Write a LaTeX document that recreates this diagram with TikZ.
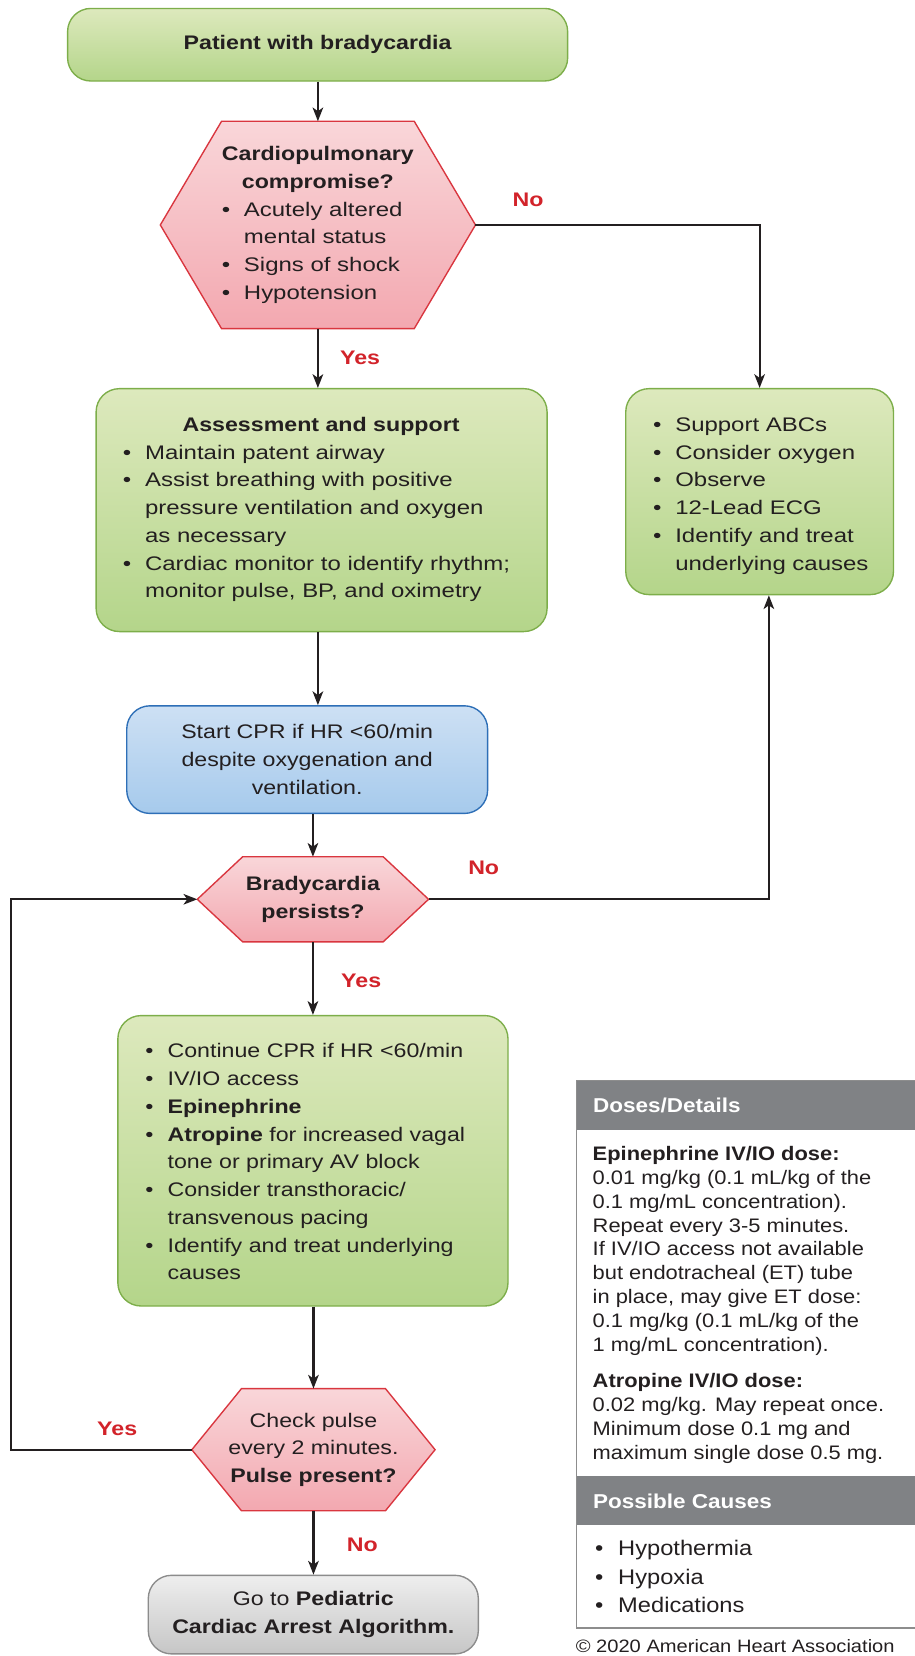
\documentclass[tikz,border=0pt]{standalone}
\usepackage{fontspec}
\setmainfont{Liberation Sans}
\newfontfamily\fa[FakeStretch=1.18]{Liberation Sans}
\newfontfamily\fb[FakeStretch=1.22]{Liberation Sans}
\newfontfamily\fc[FakeStretch=1.12]{Liberation Sans}
\usetikzlibrary{arrows.meta,backgrounds}
\definecolor{ink}{HTML}{231F20}
\definecolor{gtop}{HTML}{DDE9BD}
\definecolor{gbot}{HTML}{B4D58A}
\definecolor{gline}{HTML}{7DAE4A}
\definecolor{rtop}{HTML}{F9D6D9}
\definecolor{rbot}{HTML}{F3A8B0}
\definecolor{rline}{HTML}{D9363F}
\definecolor{btop}{HTML}{CDE0F4}
\definecolor{bbot}{HTML}{A6CAEC}
\definecolor{bline}{HTML}{2E6FB7}
\definecolor{ytop}{HTML}{EEEEEE}
\definecolor{ybot}{HTML}{C6C6C6}
\definecolor{yline}{HTML}{8C8C8C}
\definecolor{dhead}{HTML}{808285}
\definecolor{dline}{HTML}{8D8D8D}
\definecolor{lred}{HTML}{D2232A}
\newcommand\bul{\makebox[21pt][l]{•}}
\newcommand\cnt{\hspace*{21pt}}
\newcommand\bulc{\makebox[21.9pt][l]{•}}
\tikzset{
  flow/.style={font=\fa\fontsize{18.6}{26.3}\selectfont, text=ink},
  flowu/.style={font=\fb\fontsize{18.6}{26.3}\selectfont, text=ink},
  flowb/.style={font=\fa\fontsize{18.6}{26.3}\selectfont\bfseries, text=ink},
  gbox/.style={draw=gline, line width=1.3pt, rounded corners=22pt, top color=gtop, bottom color=gbot, inner sep=0pt},
  bbox/.style={draw=bline, line width=1.3pt, rounded corners=22pt, top color=btop, bottom color=bbot, inner sep=0pt},
  ybox/.style={draw=yline, line width=1.3pt, rounded corners=22pt, top color=ytop, bottom color=ybot, inner sep=0pt},
  hexsty/.style={draw=rline, line width=1.3pt, top color=rtop, bottom color=rbot},
  txt/.style={flow, inner sep=0pt, align=left, anchor=west},
  txtu/.style={flowu, inner sep=0pt, align=left, anchor=west},
  arr/.style={draw=ink, line width=2pt, -{Stealth[length=13pt,width=10pt,inset=3.5pt]}},
  lab/.style={font=\fa\fontsize{18.6}{22}\selectfont\bfseries, text=lred, inner sep=0pt},
  dtxt/.style={font=\fc\fontsize{18.5}{22.6}\selectfont, text=ink, inner sep=0pt, align=left, anchor=west},
  ctxt/.style={font=\fc\fontsize{20}{27}\selectfont, text=ink, inner sep=0pt, align=left, anchor=west},
  dhtxt/.style={font=\fc\fontsize{19}{22}\selectfont\bfseries, text=white, inner sep=0pt, anchor=west},
  dbar/.style={fill=dhead, draw=none, inner sep=0pt, anchor=north west, minimum width=325.8pt},
}
\begin{document}
\begin{tikzpicture}[x=1pt,y=-1pt]
\useasboundingbox (0,0) rectangle (866,1568);

% top
\node[gbox, minimum width=473.5pt, minimum height=68.7pt, flowb] (top) at (300.75,42.35) {Patient with bradycardia};

% hexagon 1
\node[flowu, align=center, minimum width=298pt, minimum height=196pt, inner sep=0pt] (hexA) at (301,213) {%
{\fa\bfseries Cardiopulmonary}\\ {\fa\bfseries compromise?}\\
\makebox[182pt][l]{\bul Acutely altered}\\
\makebox[182pt][l]{\cnt mental status}\\
\makebox[182pt][l]{\bul Signs of shock}\\
\makebox[182pt][l]{\bul Hypotension}};

% assessment
\node[gbox, minimum width=427pt, minimum height=230pt] (assess) at (304.5,483) {};
\node[flowb, inner sep=0pt] (assessT) at (304,403.5) {Assessment and support};
\node[txtu] (assessL) at (116.2,495.2) {\strut\bul Maintain patent airway\\
\strut\bul Assist breathing with positive\\
\strut\cnt pressure ventilation and oxygen\\
\strut\cnt as necessary\\
\strut\bul Cardiac monitor to identify rhythm;\\
\strut\cnt monitor pulse, BP, and oximetry};

% right box
\node[gbox, minimum width=253.5pt, minimum height=195pt] (rbox) at (719.25,465.5) {};
\node[txtu] (rboxT) at (618.2,469) {\strut\bul Support ABCs\\
\strut\bul Consider oxygen\\
\strut\bul Observe\\
\strut\bul 12-Lead ECG\\
\strut\bul Identify and treat\\
\strut\cnt underlying causes};

% CPR
\node[bbox, minimum width=341.7pt, minimum height=101.9pt, flow, align=center] (cpr) at (290.85,719.25) {Start CPR if HR <60/min\\ despite oxygenation and\\ ventilation.};

% hexagon 2
\node[flowb, align=center, minimum width=218.6pt, minimum height=80.2pt, inner sep=0pt] (hexB) at (296.3,851.5) {Bradycardia\\ persists?};

% actions box
\node[gbox, minimum width=369.4pt, minimum height=275pt] (act) at (296.3,1099.1) {};
\node[txt] (actT) at (137.5,1101.5) {\strut\bul Continue CPR if HR <60/min\\
\strut\bul IV/IO access\\
\strut\bul \textbf{Epinephrine}\\
\strut\bul \textbf{Atropine} for increased vagal\\
\strut\cnt tone or primary AV block\\
\strut\bul Consider transthoracic/\\
\strut\cnt transvenous pacing\\
\strut\bul Identify and treat underlying\\
\strut\cnt causes};

% hexagon 3
\node[flow, align=center, minimum width=229.9pt, minimum height=115.3pt, inner sep=0pt] (hexC) at (296.8,1372.65) {Check pulse\\ every 2 minutes.\\ \textbf{Pulse present?}};

% final
\node[ybox, minimum width=312.5pt, minimum height=74.4pt, flow, align=center] (fin) at (296.65,1528.8) {Go to \textbf{Pediatric}\\ \textbf{Cardiac Arrest Algorithm.}};

\begin{scope}[on background layer]
\path[hexsty] ([xshift=58pt]hexA.north west) -- ([xshift=-58pt]hexA.north east) -- (hexA.east) -- ([xshift=-58pt]hexA.south east) -- ([xshift=58pt]hexA.south west) -- (hexA.west) -- cycle;
\path[hexsty] ([xshift=43pt]hexB.north west) -- ([xshift=-43pt]hexB.north east) -- (hexB.east) -- ([xshift=-43pt]hexB.south east) -- ([xshift=43pt]hexB.south west) -- (hexB.west) -- cycle;
\path[hexsty] ([xshift=47pt]hexC.north west) -- ([xshift=-47pt]hexC.north east) -- (hexC.east) -- ([xshift=-47pt]hexC.south east) -- ([xshift=47pt]hexC.south west) -- (hexC.west) -- cycle;
\end{scope}

% connectors
\draw[arr] (top.south -| hexA.north) -- (hexA.north);
\draw[arr] (hexA.south) -- (hexA.south |- assess.north);
\draw[arr] (hexA.east) -| (rbox.north);
\draw[arr] (assess.south -| hexA.south) -- (cpr.north -| hexA.south);
\draw[arr] (cpr.south -| hexB.north) -- (hexB.north);
\draw[arr] (hexB.east) -| ([xshift=8.75pt]rbox.south);
\draw[arr] (hexB.south) -- (hexB.south |- act.north);
\draw[arr] (act.south -| hexC.north) -- (hexC.north);
\draw[arr] (hexC.south) -- (hexC.south |- fin.north);
\coordinate (lp) at (10.8,1372.65);
\draw[arr] (hexC.west) -- (lp) |- (hexB.west);

% labels
\node[lab] (noA) at (500,189) {No};
\node[lab] (yesA) at (341,339) {Yes};
\node[lab] (noB) at (458,822) {No};
\node[lab] (yesB) at (342,929) {Yes};
\node[lab] (yesC) at (111,1353) {Yes};
\node[lab] (noC) at (343,1463) {No};

% doses box
\node[dbar, minimum height=47.3pt] (h1) at (545.2,1022.2) {};
\node[dbar, minimum height=46.3pt] (h2) at (545.2,1397) {};
\node[draw=dline, line width=1.6pt, inner sep=0pt, anchor=north west, minimum width=325.8pt, minimum height=518.6pt] (doses) at (545.2,1022.2) {};
\node[dhtxt] (h1t) at (561.5,1047) {Doses/Details};
\node[dhtxt] (h2t) at (561.5,1422) {Possible Causes};
\node[dtxt] (epi) at (561,1184.7) {\strut\textbf{Epinephrine IV/IO dose:}\\
\strut 0.01 mg/kg (0.1 mL/kg of the\\
\strut 0.1 mg/mL concentration).\\
\strut Repeat every 3-5 minutes.\\
\strut If IV/IO access not available\\
\strut but endotracheal (ET) tube\\
\strut in place, may give ET dose:\\
\strut 0.1 mg/kg (0.1 mL/kg of the\\
\strut 1 mg/mL concentration).};
\node[dtxt] (atro) at (561,1343.4) {\strut\textbf{Atropine IV/IO dose:}\\
\strut 0.02 mg/kg. May repeat once.\\
\strut Minimum dose 0.1 mg and\\
\strut maximum single dose 0.5 mg.};
\node[ctxt] (causes) at (563.3,1494.5) {\strut\bulc Hypothermia\\
\strut\bulc Hypoxia\\
\strut\bulc Medications};
\node[font=\fc\fontsize{17}{20}\selectfont, text=ink, inner sep=0pt, anchor=base west] (copy) at (545,1564.5) {© 2020 American Heart Association};
\end{tikzpicture}
\end{document}
